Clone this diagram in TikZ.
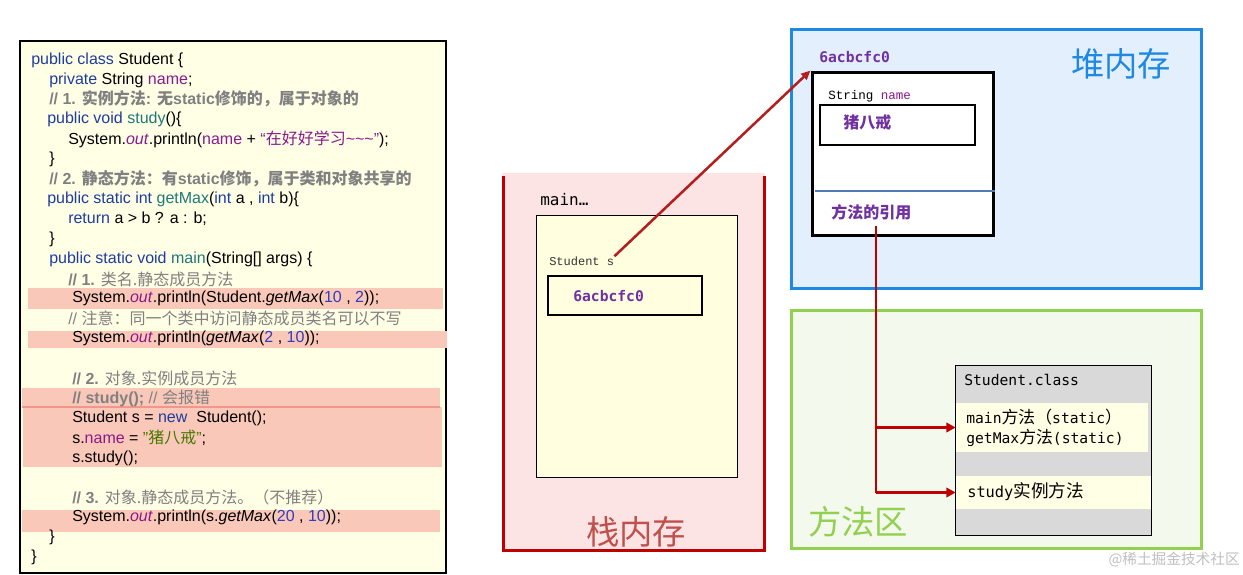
\documentclass[tikz,border=0pt]{standalone}
\usepackage{fontspec}
\setmainfont{Liberation Sans}
\newfontfamily\cjk{Noto Sans CJK SC}
\newfontfamily\cjkm{Noto Sans CJK SC}[Scale=1.15]
\newfontfamily\consfont{DejaVu Sans Mono}
\newfontfamily\simfont{Liberation Mono}
\usepackage{xcolor}
\usetikzlibrary{arrows.meta,positioning}

\definecolor{codebg}{RGB}{255,255,230}
\definecolor{hilite}{RGB}{250,200,184}
\definecolor{hiline}{RGB}{240,150,140}
\definecolor{kwblue}{RGB}{30,60,160}
\definecolor{mthteal}{RGB}{30,120,120}
\definecolor{fldpurple}{RGB}{140,25,140}
\definecolor{numblue}{RGB}{50,60,190}
\definecolor{strgreen}{RGB}{70,120,0}
\definecolor{cmtgray}{RGB}{128,128,128}
\definecolor{stackbg}{RGB}{253,228,228}
\definecolor{stackred}{RGB}{192,0,0}
\definecolor{stacklbl}{RGB}{192,80,77}
\definecolor{heapbg}{RGB}{228,239,253}
\definecolor{heapblue}{RGB}{30,136,229}
\definecolor{areabg}{RGB}{244,249,238}
\definecolor{areagreen}{RGB}{146,208,80}
\definecolor{addrpurple}{RGB}{112,48,160}
\definecolor{framebg}{RGB}{255,255,224}
\definecolor{classgray}{RGB}{217,217,217}
\definecolor{divblue}{RGB}{84,120,180}
\definecolor{linkred}{RGB}{180,30,30}

\newcommand\kw[1]{\textcolor{kwblue}{#1}}
\newcommand\mth[1]{\textcolor{mthteal}{#1}}
\newcommand\fld[1]{\textcolor{fldpurple}{#1}}
\newcommand\numc[1]{\textcolor{numblue}{#1}}
\newcommand\strl[1]{\textcolor{strgreen}{#1}}
\newcommand\cmt[1]{\textcolor{cmtgray}{#1}}
\newcommand\outf{\textcolor{fldpurple}{\textit{out}}}
\newcommand\zh[1]{{\cjk #1}}
\newcommand\zm[1]{{\cjkm #1}}
\newcommand\px[1]{#1*0.75pt}
\newcommand\codefont{\fontsize{12}{15}\selectfont}

\tikzset{
  code/.style={anchor=west, inner sep=0pt, font=\codefont},
  box/.style={draw, inner sep=0pt, minimum width=\px{#1}},
  addr/.style={anchor=west, inner sep=0pt, text=addrpurple,
    font=\consfont\bfseries\fontsize{11}{13}\selectfont},
  region/.style={inner sep=0pt, font=\cjk\fontsize{25}{28}\selectfont},
  link/.style={linkred, line width=1.9pt, -{Triangle[length=7pt,width=6pt]}},
  branch/.style={stackred, line width=2pt, -{Triangle[length=7pt,width=7pt]}},
}

\begin{document}
\begin{tikzpicture}[x=0.75pt, y=-0.75pt]
\useasboundingbox (0,0) rectangle (1243,575);
% code listing
\filldraw[fill=codebg, draw=black, line width=0.8pt] (20,41) rectangle (446,573);
\fill[hilite] (28,288) rectangle (443,309);
\fill[hilite] (28,331) rectangle (447,348);
\fill[hilite] (22,388) rectangle (440,407);
\fill[hilite] (23,407) rectangle (442,467);
\fill[hilite] (22,510) rectangle (440,532);
\draw[hiline, line width=0.8pt] (22,407) -- (440,407);

\node[code] (l1)  at (31,60)  {\kw{public class} Student \{};
\node[code] (l2)  at (49,80)  {\kw{private} String \fld{name};};
\node[code] (l3)  at (49,99)  {\cmt{\bfseries // 1. \zh{实例方法}: \zh{无}static\zh{修饰的，属于对象的}}};
\node[code] (l4)  at (47,119) {\kw{public void} \mth{study}()\{};
\node[code] (l5)  at (68,139) {System.\outf.println(\fld{name} + \fld{“\zh{在好好学习}\textasciitilde\textasciitilde\textasciitilde”});};
\node[code] (l6)  at (49,159) {\}};
\node[code] (l7)  at (49,179) {\cmt{\bfseries // 2. \zh{静态方法：有}static\zh{修饰，属于类和对象共享的}}};
\node[code] (l8)  at (47,199) {\kw{public static int} \mth{getMax}(\kw{int} a , \kw{int} b)\{};
\node[code] (l9)  at (68,219) {\kw{return} a > b ? a : b;};
\node[code] (l10) at (49,239) {\}};
\node[code] (l11) at (49,259) {\kw{public static void} \mth{main}(String[] args) \{};
\node[code] (l12) at (68,279) {\cmt{\textbf{// 1.} \zh{类名.静态成员方法}}};
\node[code] (l13) at (72,298) {System.\outf.println(Student.\textit{getMax}(\numc{10} , \numc{2}));};
\node[code] (l14) at (68,318) {\cmt{// \zh{注意：同一个类中访问静态成员类名可以不写}}};
\node[code] (l15) at (72,338) {System.\outf.println(\textit{getMax}(\numc{2} , \numc{10}));};
\node[code] (l16) at (72,378) {\cmt{\textbf{// 2.} \zh{对象.实例成员方法}}};
\node[code] (l17) at (72,398) {\cmt{\textbf{// study();} // \zh{会报错}}};
\node[code] (l18) at (72,418) {Student s = \kw{new}\ \ Student();};
\node[code] (l19) at (72,438) {s.\fld{name} = \strl{"\zh{猪八戒}"};};
\node[code] (l20) at (72,458) {s.study();};
\node[code] (l21) at (72,497) {\cmt{\textbf{// 3.} \zh{对象.静态成员方法。（不推荐）}}};
\node[code] (l22) at (72,517) {System.\outf.println(s.\textit{getMax}(\numc{20} , \numc{10}));};
\node[code] (l23) at (49,537) {\}};
\node[code] (l24) at (31,557) {\}};

% stack
\fill[stackbg] (502,173) rectangle (765,551);
\draw[stackred, line width=2.25pt] (503,176) -- (503,550) -- (764,550) -- (764,176);
\node[code, font=\consfont\fontsize{12}{14}\selectfont] (mainlbl) at (540,200) {main…};
\node[box=201, minimum height=\px{262}, fill=framebg, line width=0.6pt] (frame) at (636.5,346) {};
\node[code, font=\simfont\fontsize{9}{11}\selectfont, text=black!80] (stus) at (549,261) {Student s};
\node[box=154, minimum height=\px{39}, line width=1.5pt] (sval) at (625,295.5) {};
\node[addr] (saddr) at (573,296) {6acbcfc0};
\node[region, text=stacklbl] (stacklbl) at (636,532) {栈内存};

% heap
\filldraw[fill=heapbg, draw=heapblue, line width=2.25pt] (791,29) rectangle (1201,288);
\node[addr] (haddr) at (819,57) {6acbcfc0};
\node[region, text=heapblue] (heaplbl) at (1121,64) {堆内存};
\node[box=181, minimum height=\px{163}, fill=white, line width=2.25pt] (obj) at (902.5,153.5) {};
\node[code, font=\simfont\fontsize{9.4}{11}\selectfont] (fname) at (828,96) {String \fld{name}};
\node[box=155, minimum height=\px{40}, line width=1.5pt] (namebox) at (897.5,125) {};
\node[code, text=addrpurple, font=\cjk\bfseries\fontsize{12}{14}\selectfont] (nameval) at (843,122) {猪八戒};
\draw[divblue, line width=1.5pt] (815,191) -- (obj.east |- 0,191);
\node[code, text=addrpurple, font=\cjk\bfseries\fontsize{12}{14}\selectfont] (mref) at (831,212) {方法的引用};

% method area
\filldraw[fill=areabg, draw=areagreen, line width=2.25pt] (791,310) rectangle (1201,548);
\node[region, text=areagreen] (arealbl) at (858,522) {方法区};
\node[box=196, minimum height=\px{170}, fill=classgray, line width=0.6pt] (cls) at (1053,450) {};
\node[code, font=\consfont\fontsize{11}{13}\selectfont] (clsname) at (964,380) {Student.class};
\node[inner sep=0pt, fill=codebg, minimum width=\px{192}, minimum height=\px{49}] (band1) at (1052,427.5) {};
\node[inner sep=0pt, fill=codebg, minimum width=\px{195}, minimum height=\px{33}] (band2) at (1053.5,492.5) {};
\node[code, align=left, font=\consfont\fontsize{11}{15}\selectfont] (statm) at (966,428)
  {main\zm{方法（}static\zm{）}\\getMax\zm{方法}(static)};
\node[code, font=\consfont\fontsize{11.5}{14}\selectfont] (instm) at (967,492) {study\zm{实例方法}};

% links
\coordinate (tap) at (876,226);
\draw[link] (stus.north east) -- (obj.north west);
\draw[stackred, line width=2pt] (tap) -- (tap |- band2.west);
\draw[branch] (tap |- band1.west) -- (band1.west);
\draw[branch] (tap |- band2.west) -- (band2.west);

\node[anchor=east, inner sep=0pt, text=black!25, font=\cjk\fontsize{11}{13}\selectfont] (wm) at (1240,560) {@稀土掘金技术社区};
\end{tikzpicture}
\end{document}
